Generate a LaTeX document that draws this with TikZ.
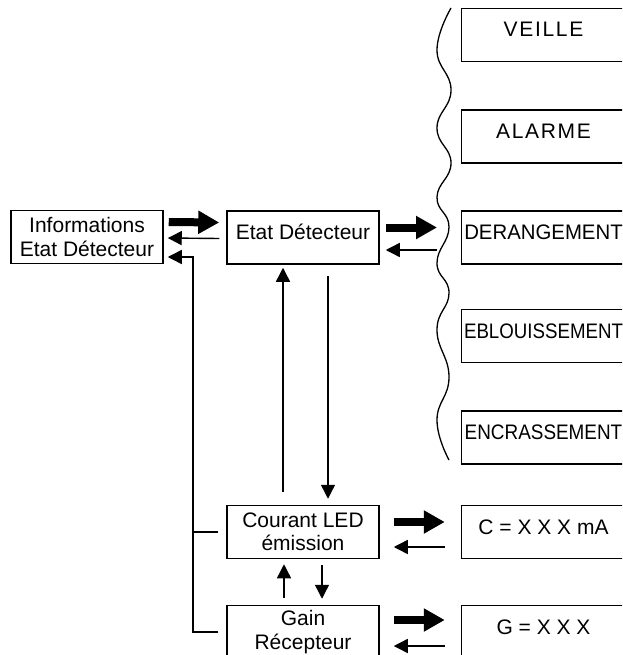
\documentclass[tikz,border=0pt]{standalone}
\usepackage{fontspec}
\usepackage{graphicx}
\setmainfont{Liberation Sans}
\usetikzlibrary{arrows.meta}
\tikzset{
  box/.style={draw, line width=1.5pt, minimum width=152pt, minimum height=53pt, inner sep=0pt, align=center, font=\fontsize{21}{23.5}\selectfont},
  valbox/.style={box, minimum width=164pt, text height=15pt, text depth=11pt},
  fat/.style={line width=8pt, -{Triangle[length=21pt,width=22pt]}},
  slim/.style={line width=1.4pt, -{Triangle[length=14pt,width=14pt]}},
  wire/.style={line width=1.5pt},
}
\begin{document}
\begin{tikzpicture}[x=1pt, y=-1pt]
  \useasboundingbox (0,0) rectangle (622,655);
  \clip (0,0) rectangle (622,655);

  \node[box] (info) at (87,237) {Informations\\Etat Détecteur};
  \node[box, text height=15pt, text depth=12pt] (etat) at (303,237.5) {Etat Détecteur};
  \node[box] (courant) at (303,532) {Courant LED\\émission};
  \node[box] (gain) at (303,632) {Gain\\Récepteur};

  \node[valbox] (veille) at (543.5,35) {\addfontfeatures{LetterSpace=8}VEILLE};
  \node[valbox] (alarme) at (543.5,136.5) {\addfontfeatures{LetterSpace=8}ALARME};
  \node[valbox] (derangement) at (543.5,237.5) {\scalebox{0.97}[1]{DERANGEMENT}};
  \node[valbox] (eblouissement) at (543.5,336) {\scalebox{0.89}[1]{EBLOUISSEMENT}};
  \node[valbox] (encrassement) at (543.5,437.5) {\scalebox{0.9}[1]{ENCRASSEMENT}};
  \node[valbox] (courval) at (543.5,532) {C = X X X mA};
  \node[valbox] (gainval) at (543.5,632) {G = X X X};

  \draw[line width=1.3pt] plot[smooth, tension=0.8] coordinates {(451,8) (437,50) (451,90) (437,128) (451,163) (437,197) (449,227) (437,263) (449,293) (437,330) (449,377) (437,420) (449,460)};

  \coordinate (bus) at (193,257);
  \coordinate (wave) at (437,237.5);

  \draw[fat] ([xshift=5pt,yshift=15pt]info.east) -- ([xshift=-7pt,yshift=15pt]etat.west);
  \draw[slim] ([xshift=-7pt,yshift=-1pt]etat.west) -- ([xshift=4pt,yshift=-1pt]info.east);
  \draw[slim] ([xshift=-8pt]gain.west) -| (bus) -- ([xshift=4pt,yshift=-20pt]info.east);
  \draw[wire] ([xshift=-8pt]courant.west) -- (courant.west -| bus);

  \draw[fat] ([xshift=6pt,yshift=10pt]etat.east) -- ([yshift=10pt]wave);
  \draw[slim] ([yshift=-12.5pt]wave) -- ([xshift=6pt,yshift=-12.5pt]etat.east);

  \draw[slim] ([xshift=-20pt,yshift=13pt]courant.north) -- ([xshift=-20pt,yshift=-3pt]etat.south);
  \draw[slim] ([xshift=25pt,yshift=-11pt]etat.south) -- ([xshift=25pt,yshift=6pt]courant.north);
  \draw[slim] ([xshift=-19pt,yshift=7pt]gain.north) -- ([xshift=-19pt,yshift=-5pt]courant.south);
  \draw[slim] ([xshift=19pt,yshift=-6pt]courant.south) -- ([xshift=19pt,yshift=6pt]gain.north);

  \draw[fat] ([xshift=14pt,yshift=10pt]courant.east) -- ([xshift=-16pt,yshift=10pt]courval.west);
  \draw[slim] ([xshift=-16pt,yshift=-15pt]courval.west) -- ([xshift=14pt,yshift=-15pt]courant.east);
  \draw[fat] ([xshift=14pt,yshift=12pt]gain.east) -- ([xshift=-16pt,yshift=12pt]gainval.west);
  \draw[slim] ([xshift=-16pt,yshift=-14pt]gainval.west) -- ([xshift=14pt,yshift=-14pt]gain.east);
\end{tikzpicture}
\end{document}
